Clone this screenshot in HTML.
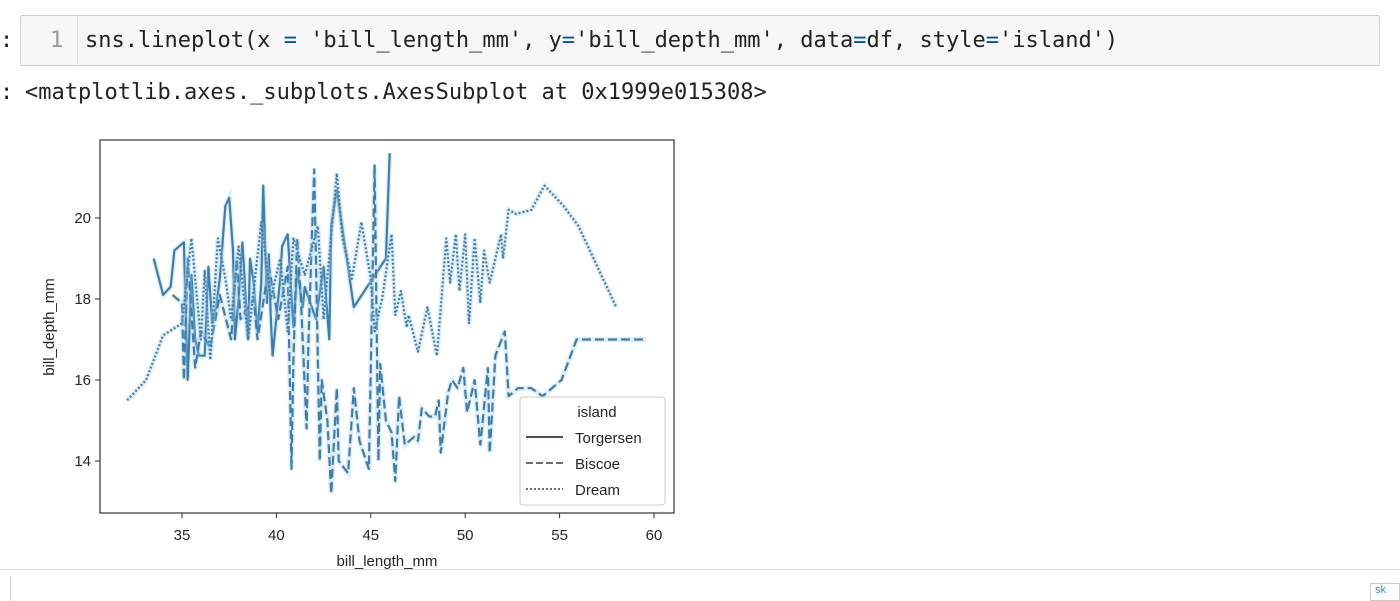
<!DOCTYPE html>
<html><head><meta charset="utf-8"><style>
body{margin:0;width:1400px;height:601px;background:#fff;overflow:hidden;position:relative;font-family:"Liberation Sans",sans-serif}
.code{position:absolute;left:20px;top:15px;width:1360px;height:51px;background:#f7f7f7;border:1px solid #cfcfcf;border-radius:2px;box-sizing:border-box}
.mono{font-family:"DejaVu Sans Mono","Liberation Mono",monospace;font-size:22px;color:#222;position:absolute;white-space:pre}
</style></head><body>
<div class="mono" style="left:0;top:28px">:</div>
<div class="code">
 <div class="mono" style="left:29px;top:12px;color:#999">1</div>
 <div style="position:absolute;left:56px;top:0;width:1px;height:49px;background:#ddd"></div>
 <div class="mono" style="left:64px;top:12px">sns.lineplot(x <span style="color:#05a">=</span> 'bill_length_mm', y<span style="color:#05a">=</span>'bill_depth_mm', data<span style="color:#05a">=</span>df, style<span style="color:#05a">=</span>'island')</div>
</div>
<div class="mono" style="left:0;top:80px">:</div>
<div class="mono" style="left:25px;top:80px">&lt;matplotlib.axes._subplots.AxesSubplot at 0x1999e015308&gt;</div>
<div style="position:absolute;left:0;top:569px;width:1400px;height:1px;background:#ddd"></div>
<div style="position:absolute;left:10px;top:576px;width:1px;height:25px;background:#ccc"></div>
<div style="position:absolute;left:1370px;top:583px;width:30px;height:18px;border:1px solid #ccc;font-size:11px;color:#39c;padding-left:4px;box-sizing:border-box">sk</div>
<svg id="chart" width="1400" height="601" style="position:absolute;left:0;top:0"></svg>
<script>
const torX=[33.5,34.0,34.4,34.6,35.1,35.2,35.3,35.5,35.7,35.9,36.2,36.4,36.6,36.8,37.0,37.2,37.3,37.5,37.7,37.8,38.0,38.2,38.5,38.6,38.8,39.0,39.2,39.3,39.5,39.6,39.7,39.8,40.2,40.3,40.6,40.9,41.1,41.4,41.5,42.1,42.5,42.8,42.9,43.2,44.1,45.8,46.0];
const torY=[19.0,18.1,18.3,19.2,19.4,17.6,16.0,18.6,17.0,16.6,16.6,18.8,17.4,17.8,18.5,19.7,20.3,20.5,19.2,17.0,18.0,19.4,17.0,19.0,18.4,17.2,18.4,20.8,17.9,19.1,17.6,16.6,18.5,19.3,19.6,17.3,18.7,17.8,18.3,17.5,18.8,17.0,19.8,20.7,17.8,19.0,21.6];
const bisX=[34.5,35.0,35.1,35.3,35.7,36.0,36.5,37.0,37.6,37.9,38.1,38.8,39.0,39.6,40.1,40.6,40.8,40.9,41.1,41.3,41.6,41.7,42.0,42.3,42.4,42.7,42.9,43.2,43.3,43.8,44.1,44.4,44.9,45.2,45.4,45.5,45.8,46.1,46.3,46.5,46.8,47.3,47.5,47.7,48.1,48.4,48.6,48.7,49.1,49.3,49.6,49.9,50.1,50.4,50.5,50.8,51.2,51.3,51.6,52.1,52.3,52.8,53.5,54.1,55.1,55.9,58.0,59.6];
const bisY=[18.1,17.9,16.0,19.0,16.3,17.2,16.8,18.1,17.0,19.0,17.5,18.0,17.0,18.8,17.5,18.8,13.8,16.5,19.5,18.0,14.8,17.0,21.2,14.0,16.0,15.0,13.2,15.8,14.0,13.7,15.8,14.5,13.8,21.3,14.0,16.4,15.0,14.7,13.5,15.6,14.4,14.6,14.5,15.3,15.1,15.1,15.5,14.2,15.7,16.0,15.8,16.3,15.2,15.8,16.0,14.4,16.3,14.2,16.6,17.2,15.6,15.8,15.8,15.6,16.0,17.0,17.0,17.0];
const drmX=[32.1,33.1,34.0,35.0,35.5,36.0,36.2,36.5,36.9,37.3,37.6,38.0,38.5,39.2,39.7,40.2,40.6,40.9,41.5,42.2,42.5,43.2,43.5,44.0,44.5,45.0,45.2,45.6,46.1,46.3,46.6,46.9,47.0,47.5,48.0,48.5,49.0,49.2,49.5,49.7,50.0,50.2,50.5,50.8,51.0,51.3,51.9,52.0,52.3,52.7,53.5,54.2,55.2,56.0,58.0];
const drmY=[15.5,16.0,17.1,17.4,19.5,17.0,18.7,16.5,19.5,18.5,17.5,19.3,17.0,19.9,18.0,19.0,17.2,19.5,18.6,19.8,17.5,21.1,19.5,18.5,19.9,18.5,17.2,18.0,19.6,17.6,18.2,17.3,17.6,16.7,17.8,16.6,19.5,18.4,19.6,18.2,19.6,17.4,19.5,17.9,19.2,18.4,19.6,19.0,20.2,20.1,20.2,20.8,20.3,19.8,17.8];
const xTicks=[35,40,45,50,55,60];
const yTicks=[14,16,18,20];
const legendLabels=["Torgersen","Biscoe","Dream"];

const NS="http://www.w3.org/2000/svg";
const svg=document.getElementById('chart');
const L=100,R=674,T=140,B=513;
const sx=v=>182+(v-35)*18.88;
const sy=v=>218-(v-20)*40.5;
function mk(tag,attrs,parent){const e=document.createElementNS(NS,tag);for(const k in attrs)e.setAttribute(k,attrs[k]);(parent||svg).appendChild(e);return e;}
const frame=mk('rect',{x:L,y:T,width:R-L,height:B-T,fill:'none',stroke:'#333','stroke-width':1.2});


xTicks.forEach(t=>{
  const l=mk('line',{x1:sx(t),x2:sx(t),y1:B,y2:B+5,stroke:'#333'});
  
  
  const tx=mk('text',{x:sx(t),y:B+27,'text-anchor':'middle','font-size':15,fill:'#262626'});tx.textContent=t;
  
  
});
yTicks.forEach(t=>{
  const l=mk('line',{x1:L-5,x2:L,y1:sy(t),y2:sy(t),stroke:'#333'});
  
  
  const tx=mk('text',{x:L-9,y:sy(t)+5,'text-anchor':'end','font-size':15,fill:'#262626'});tx.textContent=t;
  
  
});
const xl=mk('text',{x:387,y:566,'text-anchor':'middle','font-size':15,fill:'#262626'});xl.textContent='bill_length_mm';


const yl=mk('text',{x:0,y:0,'text-anchor':'middle','font-size':15,fill:'#262626',transform:'translate(54,327) rotate(-90)'});yl.textContent='bill_depth_mm';


const series=[[torX,torY,'none','torgersen-line'],[bisX,bisY,'9,4','biscoe-line'],[drmX,drmY,'2,2','dream-line']];
series.forEach(([xs,ys,dash,name])=>{
  const d=xs.map((x,i)=>(i?'L':'M')+sx(x).toFixed(1)+','+sy(ys[i]).toFixed(1)).join(' ');
  const band=mk('path',{d:d,fill:'none',stroke:'#a9cde3','stroke-width':5,opacity:0.35});
  
  
  const p=mk('path',{d:d,fill:'none',stroke:'#3b7fb0','stroke-width':2.2,'stroke-dasharray':dash,'stroke-linejoin':'round'});
  
  
});
const lg=mk('g',{});


mk('rect',{x:520,y:397,width:145,height:108,rx:3,fill:'#fff','fill-opacity':0.85,stroke:'#ccc'},lg);
const lt=mk('text',{x:597,y:417,'text-anchor':'middle','font-size':15,fill:'#262626'},lg);lt.textContent='island';
const dashes=['none','7,3','2,2'];
legendLabels.forEach((s,i)=>{
  const y=437+i*26;
  const ln=mk('line',{x1:526,x2:563,y1:y,y2:y,stroke:i==0?'#5a4a4a':'#6a6a7a','stroke-width':2,'stroke-dasharray':dashes[i]},lg);
  
  
  const t=mk('text',{x:575,y:y+6,'font-size':15,fill:'#262626'},lg);t.textContent=s;
  
  
});
</script>
</body></html>
